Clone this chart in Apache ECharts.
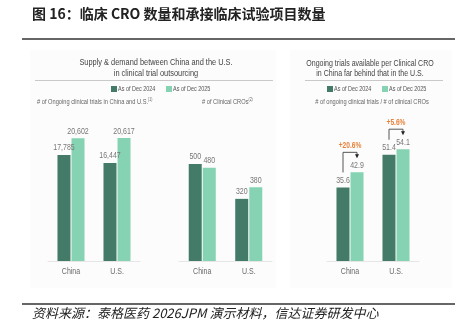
<!DOCTYPE html>
<html><head><meta charset="utf-8">
<script src="https://cdn.jsdelivr.net/npm/echarts@6/dist/echarts.min.js"></script>
<style>html,body{margin:0;padding:0;background:#fff}#c{width:459px;height:327px}</style>
</head><body><div id="c"></div>
<script>
const categories = ['China', 'U.S.'];
const seriesNames = ['As of Dec 2024', 'As of Dec 2025'];
const trials2024 = [17785, 16447];
const trials2025 = [20602, 20617];
const cros2024 = [500, 320];
const cros2025 = [480, 380];
const perCro2024 = [35.6, 51.4];
const perCro2025 = [42.9, 54.1];
const growthLabels = ['+20.6%', '+5.6%'];

const DARK = '#437A68', LIGHT = '#85D3B3', ORANGE = '#E8823A';
const SANS = '"Liberation Sans",Arial,sans-serif';
const CJK = '"Noto Sans CJK SC","Liberation Sans",sans-serif';
const SX = 0.78; // horizontal condensing for the narrow label font

const chart = echarts.init(document.getElementById('c'), null, {renderer: 'canvas'});

const grids = [
  {left: 48, width: 92, top: 112, height: 149},
  {left: 179, width: 93, top: 144.5, height: 116.5},
  {left: 327, width: 92, top: 137, height: 124}
];
const maxes = [25000, 600, 60];
const fmt = [v => v.toLocaleString('en-US'), v => String(v), v => v.toFixed(1)];
const dataSets = [[trials2024, trials2025], [cros2024, cros2025], [perCro2024, perCro2025]];

const xAxes = grids.map((g, i) => ({
  type: 'category', gridIndex: i, data: categories,
  axisLine: {lineStyle: {color: '#e6e6e6', width: 1}}, axisTick: {show: false},
  axisLabel: {show: false}
}));
const yAxes = grids.map((g, i) => ({
  type: 'value', gridIndex: i, min: 0, max: maxes[i], show: false, splitLine: {show: false}
}));
const series = [];
dataSets.forEach((pair, i) => {
  pair.forEach((arr, j) => {
    series.push({
      type: 'bar', name: seriesNames[j], xAxisIndex: i, yAxisIndex: i,
      data: arr, barWidth: 13, barGap: '8%',
      itemStyle: {color: j === 0 ? DARK : LIGHT}
    });
  });
});

function txt(x, y, text, size, color, opts) {
  opts = opts || {};
  return {type: 'text', x: x, y: y, scaleX: opts.sx || SX, scaleY: 1, z: 50,
    style: {text: text, font: (opts.weight || 'normal') + ' ' + size + 'px ' + (opts.family || SANS),
      fill: color, align: opts.align || 'center', verticalAlign: opts.va || 'middle',
      lineHeight: opts.lh, rich: opts.rich}};
}
function supTxt(x, y, main, supText) {
  const el = {type: 'text', x: x, y: y, scaleX: SX, z: 50,
    style: {text: '{t|' + main + '}{s|' + supText + '}', verticalAlign: 'middle', align: 'left',
      rich: {t: {fontSize: 7.3, fontFamily: SANS, fill: '#666'}, s: {fontSize: 4.5, fontFamily: SANS, fill: '#666', padding: [0, 0, 5, 0]}}}};
  return el;
}
function legend(x, y) {
  const out = [];
  [[DARK, 0], [LIGHT, 1]].forEach(([c, j]) => {
    const ox = x + j * 55;
    out.push({type: 'rect', shape: {x: ox, y: y - 3, width: 6, height: 6}, style: {fill: c}});
    out.push(txt(ox + 7, y, seriesNames[j], 7, '#555', {align: 'left'}));
  });
  return out;
}

const graphics = [
  {type: 'rect', shape: {x: 30, y: 50, width: 246, height: 238}, style: {fill: '#fcfcfc'}, z: -10},
  {type: 'rect', shape: {x: 290, y: 50, width: 162, height: 238}, style: {fill: '#fcfcfc'}, z: -10},
  {type: 'text', left: 32, top: 7, style: {text: '图 16：临床 CRO 数量和承接临床试验项目数量', font: 'bold 14px ' + CJK, fill: '#222'}},
  {type: 'line', shape: {x1: 22, y1: 39, x2: 455, y2: 39}, style: {stroke: '#333', lineWidth: 1.5}},
  {type: 'line', shape: {x1: 22, y1: 304, x2: 455, y2: 304}, style: {stroke: '#333', lineWidth: 1.5}},
  {type: 'text', left: 32, top: 307, style: {text: '资料来源：泰格医药 2026JPM 演示材料，信达证券研发中心', font: 'italic 13px ' + CJK, fill: '#222'}},
  txt(156, 68, 'Supply & demand between China and the U.S.\nin clinical trial outsourcing', 9.5, '#444', {lh: 10.5}),
  {type: 'line', shape: {x1: 35, y1: 80.5, x2: 273, y2: 80.5}, style: {stroke: '#bbb', lineWidth: 0.8}},
  txt(370, 68.5, 'Ongoing trials available per Clinical CRO\nin China far behind that in the U.S.', 9.5, '#444', {lh: 10.5, sx: 0.74}),
  {type: 'line', shape: {x1: 305, y1: 80.5, x2: 443, y2: 80.5}, style: {stroke: '#bbb', lineWidth: 0.8}},
  supTxt(37, 102, '# of Ongoing clinical trials in China and U.S.', '(1)'),
  supTxt(202, 102, '# of Clinical CROs', '(2)'),
  txt(372, 102, '# of ongoing clinical trials / # of clinical CROs', 7.3, '#666')
].concat(legend(111, 89), legend(327, 89));

chart.setOption({
  animation: false,
  grid: grids,
  xAxis: xAxes,
  yAxis: yAxes,
  series: series,
  graphic: graphics
});

// value labels, category labels and growth annotations placed through the library's scales
const extra = [];
dataSets.forEach((pair, i) => {
  categories.forEach((c, k) => {
    const base = chart.convertToPixel({gridIndex: i}, [k, 0]);
    extra.push(txt(base[0], base[1] + 11, c, 9, '#6a6a6a'));
    pair.forEach((arr, j) => {
      const p = chart.convertToPixel({gridIndex: i}, [k, arr[j] === undefined ? 0 : arr[k]]);
      const off = j === 0 ? -7 : 7;
      extra.push(txt(p[0] + off, p[1] - 7, fmt[i](arr[k]), 9, '#777'));
    });
  });
});
categories.forEach((c, k) => {
  const pDark = chart.convertToPixel({gridIndex: 2}, [k, perCro2024[k]]);
  const pLight = chart.convertToPixel({gridIndex: 2}, [k, perCro2025[k]]);
  const xd = pDark[0] - 7, xl = pLight[0] + 7;
  const yStart = pDark[1] - 15, yTop = pLight[1] - 20, yEnd = pLight[1] - 14;
  extra.push({type: 'polyline', shape: {points: [[xd, yStart], [xd, yTop], [xl, yTop], [xl, yEnd - 3]]}, style: {stroke: '#444', lineWidth: 0.9, fill: null}});
  extra.push({type: 'polygon', shape: {points: [[xl - 2, yEnd - 4], [xl + 2, yEnd - 4], [xl, yEnd]]}, style: {fill: '#222'}});
  extra.push(txt((xd + xl) / 2, yTop - 7, growthLabels[k], 8.5, ORANGE, {weight: 'bold'}));
});
chart.setOption({graphic: graphics.concat(extra)});
</script></body></html>
